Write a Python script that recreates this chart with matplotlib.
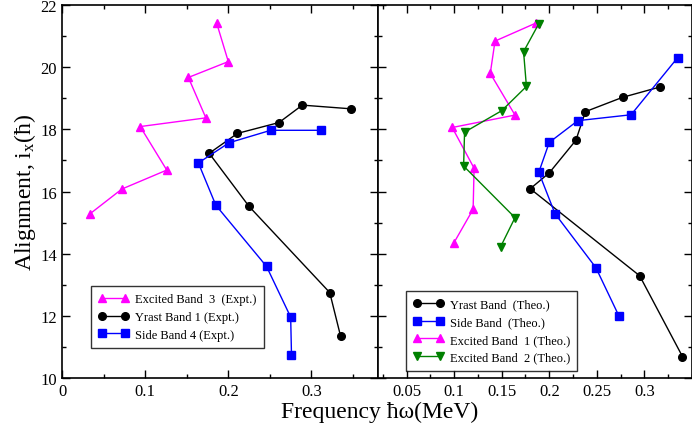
import numpy as np
import matplotlib
matplotlib.use('Agg')
import matplotlib.pyplot as plt
from matplotlib.ticker import MultipleLocator

plt.rcParams['font.family'] = ['Liberation Serif', 'DejaVu Serif']
plt.rcParams['mathtext.fontset'] = 'custom'
plt.rcParams['mathtext.rm'] = 'Liberation Serif'
plt.rcParams['mathtext.it'] = 'Liberation Serif'

# experimental bands (left panel)
exc3_w = [0.186, 0.200, 0.152, 0.173, 0.094, 0.126, 0.072, 0.034]
exc3_i = [21.42, 20.18, 19.67, 18.37, 18.09, 16.69, 16.08, 15.29]

yr1_w = [0.348, 0.289, 0.261, 0.211, 0.177, 0.225, 0.322, 0.335]
yr1_i = [18.66, 18.78, 18.22, 17.87, 17.23, 15.52, 12.75, 11.35]

sb4_w = [0.312, 0.251, 0.201, 0.164, 0.185, 0.246, 0.275, 0.276]
sb4_i = [17.97, 17.97, 17.57, 16.92, 15.56, 13.59, 11.96, 10.75]

# theoretical bands (right panel)
yr_th_w = [0.316, 0.277, 0.238, 0.228, 0.200, 0.180, 0.295, 0.340]
yr_th_i = [19.36, 19.03, 18.57, 17.65, 16.60, 16.09, 13.29, 10.69]

sb_th_w = [0.335, 0.286, 0.230, 0.200, 0.189, 0.206, 0.249, 0.273]
sb_th_i = [20.31, 18.47, 18.28, 17.58, 16.62, 15.29, 13.55, 12.01]

exc1_th_w = [0.186, 0.143, 0.138, 0.164, 0.098, 0.121, 0.120, 0.100]
exc1_th_i = [21.42, 20.84, 19.80, 18.46, 18.06, 16.75, 15.43, 14.36]

exc2_th_w = [0.189, 0.173, 0.176, 0.150, 0.111, 0.110, 0.164, 0.149]
exc2_th_i = [21.40, 20.50, 19.38, 18.60, 17.91, 16.82, 15.16, 14.23]

fig = plt.figure(figsize=(6.92, 4.31), dpi=100)
ax1 = fig.add_axes([0.0896, 0.1206, 0.4566, 0.8654])
ax2 = fig.add_axes([0.5462, 0.1206, 0.4538, 0.8654])

kw = dict(lw=1.0, ms=5.5)
ax1.plot(exc3_w, exc3_i, color='#ff00ff', marker='^', label='Excited Band  3  (Expt.)', **kw)
ax1.plot(yr1_w, yr1_i, color='black', marker='o', label='Yrast Band 1 (Expt.)', **kw)
ax1.plot(sb4_w, sb4_i, color='#0000ff', marker='s', label='Side Band 4 (Expt.)', **kw)

ax2.plot(yr_th_w, yr_th_i, color='black', marker='o', label='Yrast Band  (Theo.)', **kw)
ax2.plot(sb_th_w, sb_th_i, color='#0000ff', marker='s', label='Side Band  (Theo.)', **kw)
ax2.plot(exc1_th_w, exc1_th_i, color='#ff00ff', marker='^', label='Excited Band  1 (Theo.)', **kw)
ax2.plot(exc2_th_w, exc2_th_i, color='#008000', marker='v', label='Excited Band  2 (Theo.)', **kw)

ax1.set_xlim(0, 0.38)
ax2.set_xlim(0.02, 0.35)
for ax in (ax1, ax2):
    ax.set_ylim(10, 22)
    ax.yaxis.set_major_locator(MultipleLocator(2))
    ax.yaxis.set_minor_locator(MultipleLocator(1))
    ax.tick_params(which='both', direction='in', top=True, right=True, labelsize=12)
    ax.tick_params(which='major', length=6, width=1)
    ax.tick_params(which='minor', length=3, width=1)
    for s in ax.spines.values():
        s.set_linewidth(1.2)

ax1.xaxis.set_minor_locator(MultipleLocator(0.05))
ax1.set_xticks([0, 0.1, 0.2, 0.3])
ax1.set_xticklabels(['0', '0.1', '0.2', '0.3'])

ax2.set_xticks([0.05, 0.1, 0.15, 0.2, 0.25, 0.3])
ax2.set_xticklabels(['0.05', '0.1', '0.15', '0.2', '0.25', '0.3'])
ax2.xaxis.set_minor_locator(MultipleLocator(0.025))
ax2.tick_params(labelleft=False)

ax1.set_ylabel('Alignment, i$_x$(ħ)', fontsize=17, labelpad=2)
fig.text(0.548, 0.03, 'Frequency ħω(MeV)', fontsize=17, ha='center', va='baseline')

leg_kw = dict(fontsize=9, frameon=True, fancybox=False, edgecolor='black',
              handlelength=2.4, numpoints=2, borderpad=0.6, labelspacing=0.45,
              handletextpad=0.5, borderaxespad=0)
l1 = ax1.legend(loc='lower left', bbox_to_anchor=(0.092, 0.08), **leg_kw)
l2 = ax2.legend(loc='lower left', bbox_to_anchor=(0.089, 0.019), **leg_kw)
for l in (l1, l2):
    l.get_frame().set_linewidth(1.0)

fig.savefig('out.png', dpi=100)
